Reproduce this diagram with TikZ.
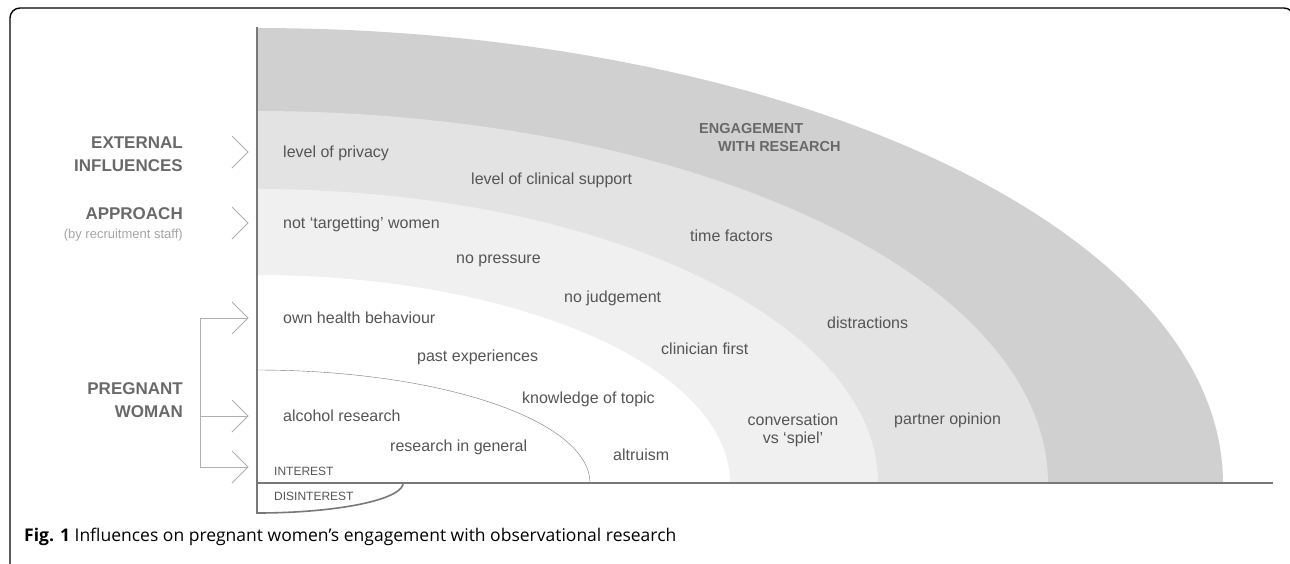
\documentclass[tikz,border=0pt]{standalone}
\usepackage{fontspec}
\setmainfont{Liberation Sans}
\newfontfamily\capfont{Open Sans}
\usepackage{tikz}
\usetikzlibrary{positioning}
\definecolor{bandA}{RGB}{208,208,208}
\definecolor{bandB}{RGB}{227,227,227}
\definecolor{bandC}{RGB}{240,240,240}
\definecolor{axisgrey}{RGB}{120,120,120}
\definecolor{chevgrey}{RGB}{175,175,175}
\definecolor{txtgrey}{RGB}{85,85,85}
\definecolor{capgrey}{RGB}{105,105,105}
\definecolor{subgrey}{RGB}{165,165,165}

\begin{document}
\begin{tikzpicture}[x=1pt, y=-1pt,
    lbl/.style={text=txtgrey, inner sep=0pt, anchor=west, font=\fontsize{16}{18}\selectfont},
    head/.style={text=capgrey, inner sep=0pt, anchor=east, align=right, font=\fontsize{17}{22.5}\selectfont\bfseries},
    tiny/.style={text=txtgrey, inner sep=0pt, anchor=west, font=\fontsize{12}{14}\selectfont}]
    \useasboundingbox (0,0) rectangle (1290,563);
    \begin{scope}
    \clip (0,0) rectangle (1290,563);
    \draw[line width=1.4, rounded corners=10] (10,8) rectangle (1294,575);
    \end{scope}
    % bands
    \foreach \a/\b/\c in {966/455/bandA, 791/372/bandB, 621/294/bandC, 473/208/white}
    \fill[\c] (257,483) -- plot[domain=0:90, samples=120] ({257+\a*cos(\x)},{483-\b*sin(\x)}) -- cycle;
    \draw[axisgrey, thin] plot[domain=0:90, samples=120] ({257+333*cos(\x)},{483-113*sin(\x)});
    \draw[axisgrey, line width=1.6] plot[domain=0:90, samples=60] ({257+146*cos(\x)},{483+30*sin(\x)});
    % axes
    \draw[axisgrey, line width=1.8] (257,27) -- (257,514);
    \draw[axisgrey, line width=1.8] (257,483) -- (1273,483);
    % chevrons
    \foreach \n/\y in {ext/152, app/223, own/318, alc/416, int/467}
    {
    \coordinate (\n) at (248,\y);
    \draw[chevgrey, line width=0.8] (232,\y-16) -- (\n) -- (232,\y+16);
    }
    \coordinate (bartop) at (200,318);
    \coordinate (barbot) at (200,467);
    \draw[chevgrey, line width=0.8] (own) -- (bartop) -- (barbot) -- (int);
    \draw[chevgrey, line width=0.8] (alc) -- (barbot |- alc);
    % left headings
    \node[head] (external) at (183,154) {EXTERNAL\\INFLUENCES};
    \node[head] (approach) at (183,214) {APPROACH};
    \node[text=subgrey, inner sep=0pt, anchor=east, font=\fontsize{13}{15}\selectfont] (staff) at (183,235) {(by recruitment staff)};
    \node[head] (woman) at (183,400) {PREGNANT\\WOMAN};
    % band texts
    \node[text=capgrey, inner sep=0pt, anchor=west, font=\fontsize{14.5}{16}\selectfont\bfseries] (eng) at (699,129) {ENGAGEMENT};
    \node[text=capgrey, inner sep=0pt, anchor=west, font=\fontsize{14.5}{16}\selectfont\bfseries] (withres) at (718,147) {WITH RESEARCH};
    \node[lbl] (privacy) at (283,153) {level of privacy};
    \node[lbl] (clinsup) at (471,180) {level of clinical support};
    \node[lbl] (target) at (283,224) {not ‘targetting’ women};
    \node[lbl] (pressure) at (456,261) {no pressure};
    \node[lbl] (time) at (690,236) {time factors};
    \node[lbl] (judge) at (564,298) {no judgement};
    \node[lbl] (distract) at (827,323) {distractions};
    \node[lbl] (health) at (283,318) {own health behaviour};
    \node[lbl] (past) at (417,357) {past experiences};
    \node[lbl] (clinfirst) at (661,349) {clinician first};
    \node[lbl] (alcohol) at (283,416) {alcohol research};
    \node[lbl] (topic) at (522,399) {knowledge of topic};
    \node[lbl] (general) at (390,447) {research in general};
    \node[lbl] (altruism) at (613,455) {altruism};
    \node[lbl, anchor=center, align=center] (spiel) at (793,430) {conversation\\vs ‘spiel’};
    \node[lbl] (partner) at (894,420) {partner opinion};
    \node[tiny] (interest) at (274,471) {INTEREST};
    \node[tiny] (disint) at (274,496) {DISINTEREST};
    % caption
    \node[inner sep=0pt, anchor=west, font=\capfont\fontsize{17.5}{20}\selectfont] (caption) at (24,537) {\textbf{Fig. 1} Influences on pregnant women’s engagement with observational research};
\end{tikzpicture}
\end{document}
